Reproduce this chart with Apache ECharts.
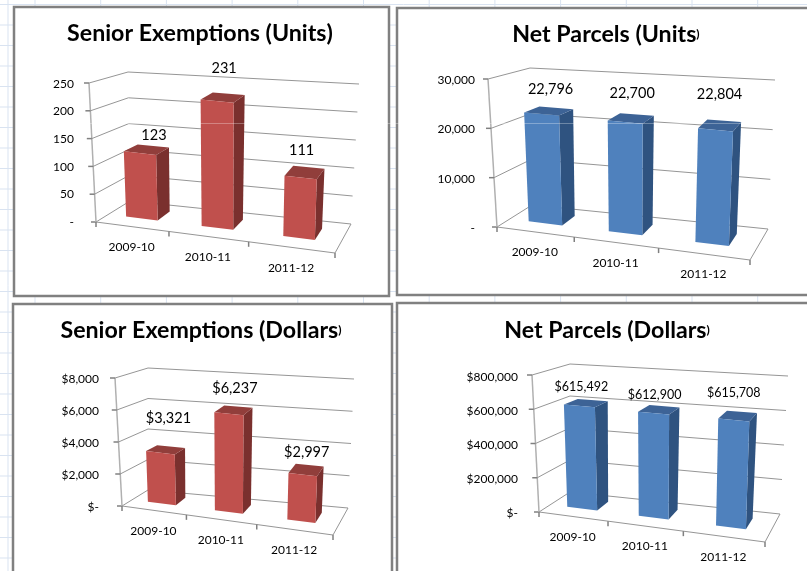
<!DOCTYPE html>
<html>
<head>
    <meta charset="utf-8">
    <title>Senior Exemptions and Net Parcels</title>
    <script src="https://cdn.jsdelivr.net/npm/echarts@6/dist/echarts.min.js"></script>
    <style>
        html, body { margin: 0; padding: 0; background: #fff; }
        #chart1 { width: 807px; height: 571px; }
    </style>
</head>
<body>
<div id="chart1"></div>
<script type="text/javascript">
    // data
    const categories = ['2009-10', '2010-11', '2011-12'];

    const seniorUnits = [123, 231, 111];
    const parcelUnits = [22796, 22700, 22804];
    const seniorDollars = [3321, 6237, 2997];
    const parcelDollars = [615492, 612900, 615708];

    const seniorUnitsTicks = [0, 50, 100, 150, 200, 250];
    const parcelUnitsTicks = [0, 10000, 20000, 30000];
    const seniorDollarsTicks = [0, 2000, 4000, 6000, 8000];
    const parcelDollarsTicks = [0, 200000, 400000, 600000, 800000];

    const RED = { front: '#C0504D', side: '#7A302E', top: '#913E3B' };
    const BLUE = { front: '#4F81BD', side: '#2F5380', top: '#3D6396' };
    const FONT = 'Lato, "Noto Sans", sans-serif';

    // corners of the 3d box: front/back, left/right, bottom/top
    const panels = [
        {
            title: 'Senior Exemptions (Units', close: ')', titleX: 200, titleY: 22, titleSize: 23.2,
            closeSize: 23.2, values: seniorUnits, ticks: seniorUnitsTicks, prefix: '', color: RED,
            grid: { left: 92, top: 84, width: 243, height: 138 }, labelMargin: 18,
            flb: [96, 222], frb: [335, 253], blb: [130, 201], brb: [351, 224],
            flt: [89, 83], frt: [340, 109], blt: [128, 72], brt: [359, 84],
            valueSize: 14.5, nudge: [[14, -18], [7, -33], [1, -27]]
        },
        {
            title: 'Net Parcels (Units', close: ')', titleX: 606, titleY: 23, titleSize: 23.2,
            closeSize: 12, values: parcelUnits, ticks: parcelUnitsTicks, prefix: '', color: BLUE,
            grid: { left: 492, top: 80, width: 258, height: 148 }, labelMargin: 17,
            flb: [497, 227], frb: [750, 260], blb: [532, 205], brb: [768, 229],
            flt: [488, 79], frt: [757, 103], blt: [530, 68], brt: [775, 80],
            valueSize: 14.5, nudge: [[9, -25], [7, -29], [4, -36]]
        },
        {
            title: 'Senior Exemptions (Dollars', close: ')', titleX: 201, titleY: 319, titleSize: 23.2,
            closeSize: 12, values: seniorDollars, ticks: seniorDollarsTicks, prefix: '$', color: RED,
            grid: { left: 118, top: 379, width: 215, height: 128 }, labelMargin: 19,
            flb: [122, 506], frb: [333, 535], blb: [148, 490], brb: [348, 508],
            flt: [115, 378], frt: [339, 403], blt: [148, 368], brt: [354, 379],
            valueSize: 14.5, nudge: [[8, -34], [6, -25], [4, -22]]
        },
        {
            title: 'Net Parcels (Dollars', close: ')', titleX: 607, titleY: 319, titleSize: 23.2,
            closeSize: 12, values: parcelDollars, ticks: parcelDollarsTicks, prefix: '$', color: BLUE,
            grid: { left: 535, top: 377, width: 230, height: 136 }, labelMargin: 17,
            flb: [539, 512], frb: [765, 542], blb: [570, 492], brb: [780, 514],
            flt: [532, 375], frt: [770, 396], blt: [570, 364], brt: [788, 376],
            valueSize: 12.5, nudge: [[2, -19], [1, -18], [0, -27]]
        }
    ];

    function lerp(a, b, t) {
        return [a[0] + (b[0] - a[0]) * t, a[1] + (b[1] - a[1]) * t];
    }

    // u along the categories, v up the value axis, w into the depth
    function project(p, u, v, w) {
        const frontBottom = lerp(p.flb, p.frb, u);
        const backBottom = lerp(p.blb, p.brb, u);
        const frontTop = lerp(p.flt, p.frt, u);
        const backTop = lerp(p.blt, p.brt, u);
        return lerp(lerp(frontBottom, backBottom, w), lerp(frontTop, backTop, w), v);
    }

    // perspective squeeze of the front edge, ticks and category labels sit on it
    function warp(u) {
        return u * (0.874 + 0.126 * u);
    }

    function money(prefix, n) {
        return prefix + n.toLocaleString('en-US');
    }

    function toUnit(api, x, y, params) {
        const pt = api.coord([x, y]);
        const cs = params.coordSys;
        return [(pt[0] - cs.x) / cs.width, (cs.y + cs.height - pt[1]) / cs.height];
    }

    function line(points, color, width) {
        return {
            type: 'polyline',
            shape: { points: points },
            style: { stroke: color, lineWidth: width || 1, fill: null }
        };
    }

    function renderWall(p) {
        return function (params, api) {
            const v = toUnit(api, 0, api.value(1), params)[1];
            const start = project(p, 0, v, 0);
            const kids = [
                line([start, project(p, 0, v, 1), project(p, 1, v, 1)], '#969696'),
                line([start, [start[0] - 5, start[1]]], '#808080', 1.5)
            ];
            if (params.dataIndex === 0) {
                kids.push(line([p.flb, p.flt], '#b0b0b0', 1.5));
                kids.push(line([p.flb, p.frb, p.brb], '#969696'));
                [0, 1 / 3, 2 / 3, 1].forEach(function (t) {
                    const a = project(p, warp(t), 0, 0);
                    kids.push(line([a, [a[0], a[1] + 5]], '#808080', 1.5));
                });
            }
            return { type: 'group', children: kids };
        };
    }

    function renderBar(p) {
        const half = 0.067, w1 = 0.2, w2 = 0.6;
        // the columns stand a little off the floor, the middle one a little to the left
        const lift = 0.03, topLift = 0.012;
        const slide = [0, -0.013, 0];
        return function (params, api) {
            const i = api.value(0);
            const val = api.value(1);
            const uv = toUnit(api, i, val, params);
            const u = uv[0] + slide[i], v = uv[1] + topLift;
            const a = u - half, b = u + half;
            const top = project(p, u, v, w1);
            const foot = project(p, warp((i + 0.5) / categories.length), 0, 0);
            return {
                type: 'group',
                children: [
                    {
                        type: 'polygon',
                        shape: { points: [project(p, b, lift, w1), project(p, b, lift, w2), project(p, b, v, w2), project(p, b, v, w1)] },
                        style: { fill: p.color.side }
                    },
                    {
                        type: 'polygon',
                        shape: { points: [project(p, a, v, w1), project(p, b, v, w1), project(p, b, v, w2), project(p, a, v, w2)] },
                        style: { fill: p.color.top }
                    },
                    {
                        type: 'polygon',
                        shape: { points: [project(p, a, lift, w1), project(p, b, lift, w1), project(p, b, v, w1), project(p, a, v, w1)] },
                        style: { fill: p.color.front }
                    },
                    {
                        type: 'text',
                        style: {
                            text: money(p.prefix, val), x: top[0] + p.nudge[i][0], y: top[1] + p.nudge[i][1],
                            fill: '#000', align: 'center', verticalAlign: 'middle',
                            fontSize: p.valueSize, fontFamily: FONT
                        }
                    },
                    {
                        type: 'text',
                        style: {
                            text: categories[i], x: foot[0], y: foot[1] + 20.5,
                            fill: '#000', align: 'center', verticalAlign: 'middle',
                            fontSize: 12, fontFamily: FONT
                        }
                    }
                ]
            };
        };
    }

    // worksheet cells behind the charts, then the chart frames
    const sheet = [];
    for (let x = 35; x < 807; x += 65.7) {
        sheet.push({ type: 'line', shape: { x1: x, y1: 0, x2: x, y2: 571 }, style: { stroke: '#d9e3f1' }, silent: true });
    }
    for (let y = 4.5; y < 571; y += 20.5) {
        sheet.push({ type: 'line', shape: { x1: 0, y1: y, x2: 807, y2: y }, style: { stroke: '#d9e3f1' }, silent: true });
    }
    sheet.push({ type: 'line', shape: { x1: 8, y1: 0, x2: 8, y2: 571 }, style: { stroke: '#d9e3f1' }, silent: true });
    [[14, 7, 375, 289], [397, 8, 430, 287], [13, 304, 379, 290], [397, 303, 430, 290]].forEach(function (r) {
        sheet.push({
            type: 'rect',
            shape: { x: r[0], y: r[1], width: r[2], height: r[3] },
            style: { fill: '#fff', stroke: '#808080', lineWidth: 2.5 },
            z: 1
        });
    });
    // faint scan line that crosses the top charts
    sheet.push({
        type: 'line', shape: { x1: 16, y1: 123.5, x2: 807, y2: 123.5 },
        style: { stroke: 'rgba(255,255,255,0.3)' }, z: 50, silent: true
    });

    const option = {
        animation: false,
        backgroundColor: '#fff',
        graphic: { elements: sheet },
        title: panels.map(function (p) {
            return {
                text: '{a|' + p.title + '}{b|' + p.close + '}',
                left: p.titleX, top: p.titleY, textAlign: 'center', padding: 0, z: 10,
                textStyle: {
                    rich: {
                        a: { fontSize: p.titleSize, fontWeight: 'bold', fontFamily: FONT, color: '#000' },
                        b: { fontSize: p.closeSize, fontWeight: 'bold', fontFamily: FONT, color: '#000' }
                    }
                }
            };
        }),
        grid: panels.map(function (p) { return p.grid; }),
        xAxis: panels.map(function (p, n) {
            return { type: 'category', gridIndex: n, data: categories, show: false };
        }),
        yAxis: panels.map(function (p, n) {
            return {
                type: 'value', gridIndex: n, z: 10,
                min: 0, max: p.ticks[p.ticks.length - 1], interval: p.ticks[1],
                axisLine: { show: false }, axisTick: { show: false }, splitLine: { show: false },
                axisLabel: {
                    margin: p.labelMargin, color: '#000', fontSize: 12, fontFamily: FONT,
                    formatter: function (v) { return v === 0 ? p.prefix + '-' : money(p.prefix, v); }
                }
            };
        }),
        series: []
    };

    panels.forEach(function (p, n) {
        option.series.push({
            type: 'custom', xAxisIndex: n, yAxisIndex: n, silent: true, z: 2,
            renderItem: renderWall(p), encode: { x: 0, y: 1 },
            data: p.ticks.map(function (t) { return [0, t]; })
        });
        option.series.push({
            type: 'custom', xAxisIndex: n, yAxisIndex: n, silent: true, z: 3,
            renderItem: renderBar(p), encode: { x: 0, y: 1 },
            data: p.values.map(function (v, i) { return [i, v]; })
        });
    });

    var myChart1 = echarts.init(document.getElementById('chart1'));
    myChart1.setOption(option);
</script>
</body>
</html>
